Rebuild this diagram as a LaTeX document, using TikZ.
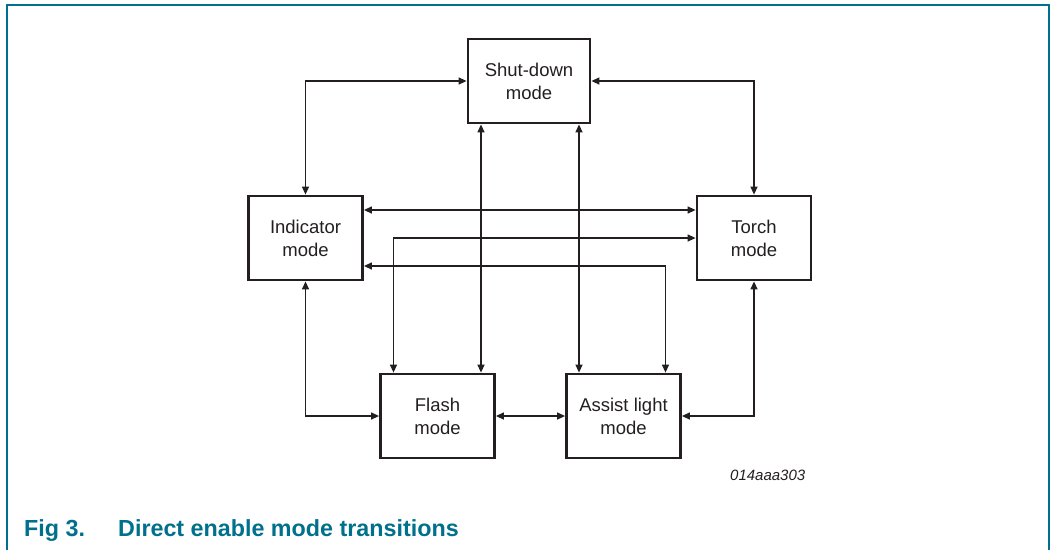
\documentclass[tikz,border=0pt]{standalone}
\usepackage{fontspec}
\setmainfont{Liberation Sans}
\usepackage{tikz}
\usetikzlibrary{calc,arrows.meta,positioning}
\usepackage{xcolor}
\definecolor{nxpteal}{RGB}{0,112,140}
\definecolor{inkgray}{RGB}{35,31,32}

\begin{document}
\begin{tikzpicture}[
  x=1pt,y=-1pt,>={Triangle[length=8pt,width=7pt]},
  every node/.style={font=\fontsize{18.5}{23}\selectfont,text=inkgray},
  modebox/.style={draw=inkgray,line width=2.8pt,align=center,minimum width=114pt,minimum height=84pt,inner sep=0pt},
  link/.style={<->,draw=inkgray,line width=1.3pt},
  caption/.style={font=\fontsize{23.3}{28}\selectfont\bfseries,text=nxpteal,anchor=base west,inner sep=0pt}
]
  \useasboundingbox (0,0) rectangle (1063,550);

  % Frame (open at the bottom)
  \draw[nxpteal,line width=1.5pt] (7,550) -- (7,5) -- (1049,5) -- (1049,550);

  % Mode boxes
  \node[modebox,minimum width=122pt] (shut)   at (529,81)    {Shut-down\\mode};
  \node[modebox] (ind)    at (305.5,238) {Indicator\\mode};
  \node[modebox] (torch)  at (754,238)   {Torch\\mode};
  \node[modebox] (flash)  at (437.5,416) {Flash\\mode};
  \node[modebox] (assist) at (623.5,416) {Assist light\\mode};

  % Transitions around the outside
  \draw[link] (ind.north) |- (shut.west);
  \draw[link] (shut.east) -| (torch.north);
  \draw[link] (ind.south) |- (flash.west);
  \draw[link] (torch.south) |- (assist.east);
  \draw[link] (flash.east) -- (assist.west);

  % Crossing transitions
  \draw[link] ([yshift=28pt]ind.east) -- ([yshift=28pt]torch.west);
  \draw[link] (torch.west) -| ([xshift=-44pt]flash.north);
  \draw[link] ([yshift=-28pt]ind.east) -| ([xshift=42pt]assist.north);
  \draw[link] ([xshift=43.5pt]flash.north) -- ([xshift=43.5pt]flash.north |- shut.south);
  \draw[link] ([xshift=-44.5pt]assist.north) -- ([xshift=-44.5pt]assist.north |- shut.south);

  % Figure id and caption
  \node[font=\fontsize{15}{18}\selectfont\itshape,anchor=base west,inner sep=0pt] (figid) at (730,480) {014aaa303};
  \node[caption] (fignum) at (24,536) {Fig 3.};
  \node[caption] (figcap) at (118,536) {Direct enable mode transitions};
\end{tikzpicture}
\end{document}
